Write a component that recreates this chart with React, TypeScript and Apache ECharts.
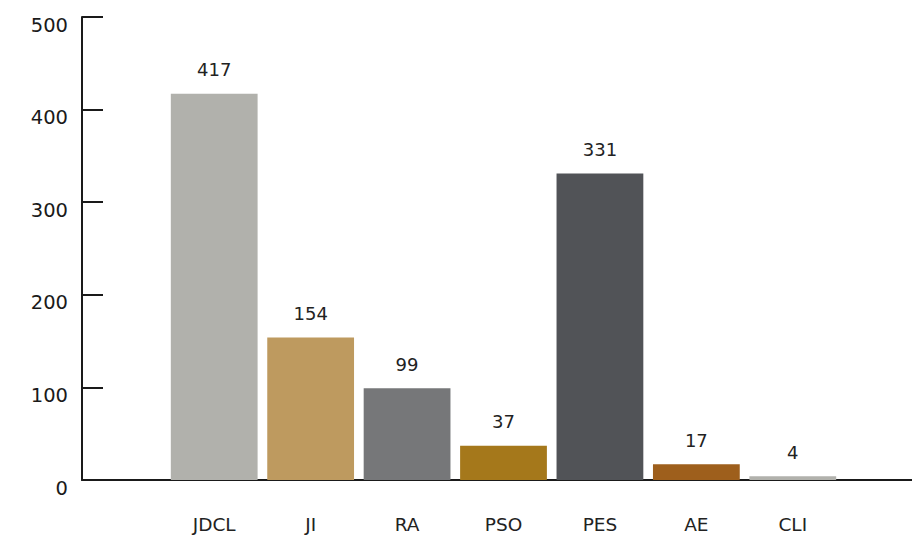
import React, { useEffect, useRef } from "react";
import * as echarts from "echarts";

const categories = ["JDCL", "JI", "RA", "PSO", "PES", "AE", "CLI"];
const values = [417, 154, 99, 37, 331, 17, 4];
const barColors = ["#b1b1ac", "#be9a5f", "#767779", "#a5781b", "#515357", "#9e5f1c", "#b1b1ac"];

const FONT = "DejaVu Sans";

export default function App() {
  const ref = useRef<HTMLDivElement>(null);
  useEffect(() => {
    if (!ref.current) return;
    const chart = echarts.init(ref.current, null, { renderer: "svg" });
    chart.setOption({
      animation: false,
      backgroundColor: "#ffffff",
      grid: [
        { left: 82, right: 0, top: 17, bottom: 56 },
        { left: 166, right: 71, top: 17, bottom: 56 },
      ],
      xAxis: [
        {
          gridIndex: 0,
          type: "value",
          min: 0,
          max: 1,
          axisLine: { show: true, lineStyle: { color: "#1a1a1a", width: 2 } },
          axisTick: { show: false },
          axisLabel: { show: false },
          splitLine: { show: false },
        },
        {
          gridIndex: 1,
          type: "category",
          data: categories,
          axisLine: { show: false },
          axisTick: { show: false },
          axisLabel: {
            margin: 35,
            color: "#222",
            fontFamily: FONT,
            fontSize: 18.5,
          },
        },
      ],
      yAxis: [
        {
          gridIndex: 0,
          type: "value",
          min: 0,
          max: 500,
          interval: 100,
          axisLine: { show: true, lineStyle: { color: "#1a1a1a", width: 2 } },
          axisTick: { show: true, inside: true, length: 21, lineStyle: { color: "#1a1a1a", width: 2 } },
          axisLabel: {
            margin: 14,
            color: "#1a1a1a",
            fontFamily: FONT,
            fontSize: 19.5,
            fontWeight: 500,
            verticalAlign: "top",
            lineHeight: 16,
          },
          splitLine: { show: false },
        },
        {
          gridIndex: 1,
          type: "value",
          min: 0,
          max: 500,
          show: false,
          splitLine: { show: false },
        },
      ],
      series: [
        {
          type: "bar",
          xAxisIndex: 1,
          yAxisIndex: 1,
          z: 5,
          barWidth: "90%",
          data: values.map((v, i) => ({ value: v, itemStyle: { color: barColors[i] } })),
          label: {
            show: true,
            position: "top",
            distance: 15,
            color: "#222",
            fontFamily: FONT,
            fontSize: 18,
          },
        },
      ],
    });
    return () => chart.dispose();
  }, []);
  return <div ref={ref} style={{ width: 912, height: 536, position: "absolute", left: 0, top: 0 }} />;
}
